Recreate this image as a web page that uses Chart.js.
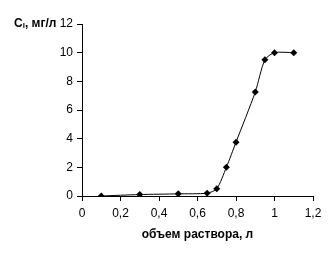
<!DOCTYPE html>
<html>
<head>
<meta charset="utf-8">
<script src="https://cdn.jsdelivr.net/npm/chart.js@4"></script>
<style>
  html, body { margin: 0; padding: 0; background: #fff; }
  #wrap { width: 336px; height: 259px; }
</style>
</head>
<body>
<div id="wrap"><canvas id="chart" width="336" height="259"></canvas></div>
<script>
// data
const volume = [0.1, 0.3, 0.5, 0.65, 0.7, 0.75, 0.8, 0.9, 0.95, 1.0, 1.1];
const conc = [0, 0.1, 0.15, 0.2, 0.5, 2.0, 3.75, 7.25, 9.5, 10, 10];
const xTickValues = [0, 0.2, 0.4, 0.6, 0.8, 1.0, 1.2];
const xTickLabels = ['0', '0,2', '0,4', '0,6', '0,8', '1', '1,2'];
const xTitle = 'объем раствора, л';

const FONT = 'Arial, "Liberation Sans", sans-serif';

// horizontal y title at top left, drawn next to the "12" label
const yTitlePlugin = {
  id: 'yTitle',
  afterDraw(chart) {
    const c = chart.ctx;
    const y = chart.scales.y.getPixelForValue(12);
    c.save();
    c.fillStyle = '#000';
    c.textBaseline = 'middle';
    c.textAlign = 'left';
    let x = 14;
    c.font = 'bold 12px ' + FONT;
    c.fillText('C', x, y);
    x += c.measureText('C').width;
    c.font = 'bold 8px ' + FONT;
    c.fillText('l', x, y + 2);
    x += c.measureText('l').width;
    c.font = 'bold 12px ' + FONT;
    c.fillText(', мг/л', x, y);
    c.restore();
  }
};

const ctx = document.getElementById('chart').getContext('2d');
const chart = new Chart(ctx, {
  type: 'line',
  data: {
    datasets: [{
      data: volume.map((v, i) => ({ x: v, y: conc[i] })),
      borderColor: '#000',
      borderWidth: 1,
      backgroundColor: '#000',
      pointStyle: 'rectRot',
      pointRadius: 3.5,
      pointBorderWidth: 0,
      tension: 0.25
    }]
  },
  options: {
    responsive: false,
    animation: false,
    devicePixelRatio: 1,
    layout: { padding: { top: 24, right: 23, left: 0, bottom: 17 } },
    plugins: {
      legend: { display: false },
      tooltip: { enabled: false }
    },
    scales: {
      x: {
        type: 'linear',
        min: 0,
        max: 1.2,
        afterBuildTicks: (s) => { s.ticks = xTickValues.map(v => ({ value: v })); },
        afterFit: (s) => { s.height = 46; },
        border: { color: '#000', width: 1 },
        grid: { drawOnChartArea: false, drawTicks: true, tickLength: 5, color: '#000' },
        ticks: {
          color: '#000',
          font: { family: FONT, size: 12 },
          padding: 5,
          maxRotation: 0,
          callback: (v, i) => xTickLabels[i]
        },
        title: {
          display: true,
          text: xTitle,
          color: '#000',
          font: { family: FONT, size: 12, weight: 'bold' },
          padding: { top: 4, bottom: 0 }
        }
      },
      y: {
        min: 0,
        max: 12,
        afterFit: (s) => { s.width = 82; },
        border: { color: '#000', width: 1 },
        grid: { drawOnChartArea: false, drawTicks: true, tickLength: 5, color: '#000' },
        ticks: {
          stepSize: 2,
          color: '#000',
          font: { family: FONT, size: 12 },
          padding: 4
        }
      }
    }
  },
  plugins: [yTitlePlugin]
});
</script>
</body>
</html>
